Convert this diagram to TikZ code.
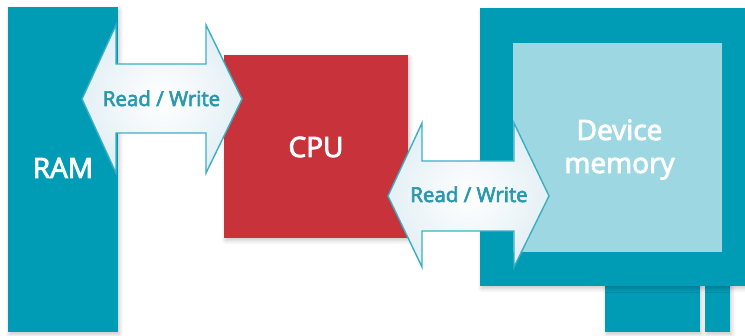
\documentclass[tikz,border=0pt]{standalone}
\usepackage{fontspec}
\setmainfont{Open Sans}[FakeBold=3.2]
\usetikzlibrary{shadows.blur}

\definecolor{tealbox}{RGB}{0,156,182}
\definecolor{lightbox}{RGB}{156,215,226}
\definecolor{cpured}{RGB}{200,50,58}
\definecolor{arrowline}{RGB}{58,175,196}
\definecolor{arrowtext}{RGB}{43,152,174}
\definecolor{arrowshade}{RGB}{228,240,245}

\tikzset{
  softshadow/.style={blur shadow={shadow xshift=1.5pt, shadow yshift=-2.5pt,
      shadow blur radius=4pt, shadow opacity=22, shadow blur steps=6}},
  block/.style={draw=none, inner sep=0pt, softshadow},
  biglabel/.style={text=white, font=\fontsize{28}{33}\selectfont, inner sep=0pt},
  rwarrow/.style={draw=arrowline, line width=1.4pt, line join=miter,
      inner color=white, outer color=arrowshade},
  rwlabel/.style={text=arrowtext, font=\fontsize{20.5}{24}\selectfont, inner sep=0pt}
}

\begin{document}
\begin{tikzpicture}[x=1pt, y=-1pt]
  \useasboundingbox (0,0) rectangle (745,336);

  % RAM column
  \path[block, fill=tealbox] (8,7) rectangle (118,332);
  \node[biglabel, anchor=base] (ram) at (63,178) {RAM};

  % device: legs, outer frame and memory area
  \path[block, fill=tealbox] (605,280) rectangle (700,332);
  \path[block, fill=tealbox] (705,280) rectangle (730,332);
  \path[block, fill=tealbox] (480,8) rectangle (752,286);
  \path[fill=lightbox] (513,43) rectangle (722,252);
  \node[biglabel, anchor=base, align=center] (dev) at (619.5,173) {Device\\memory};

  % CPU
  \path[block, fill=cpured] (224,55) rectangle (408,238);
  \node[biglabel, anchor=base] (cpu) at (316,157) {CPU};

  % RAM <-> CPU
  \path[rwarrow] (82,99) -- (116,25) -- (116,64) -- (206,64) -- (206,25)
     -- (242,99) -- (206,173) -- (206,133) -- (116,133) -- (116,173) -- cycle;
  \node[rwlabel, anchor=base] (rw1) at (161.5,106) {Read / Write};

  % CPU <-> device memory
  \path[rwarrow] (388,196) -- (422,123) -- (422,161) -- (514,161) -- (514,123)
     -- (549,196) -- (514,267) -- (514,231) -- (422,231) -- (422,267) -- cycle;
  \node[rwlabel, anchor=base] (rw2) at (469,202) {Read / Write};
\end{tikzpicture}
\end{document}
